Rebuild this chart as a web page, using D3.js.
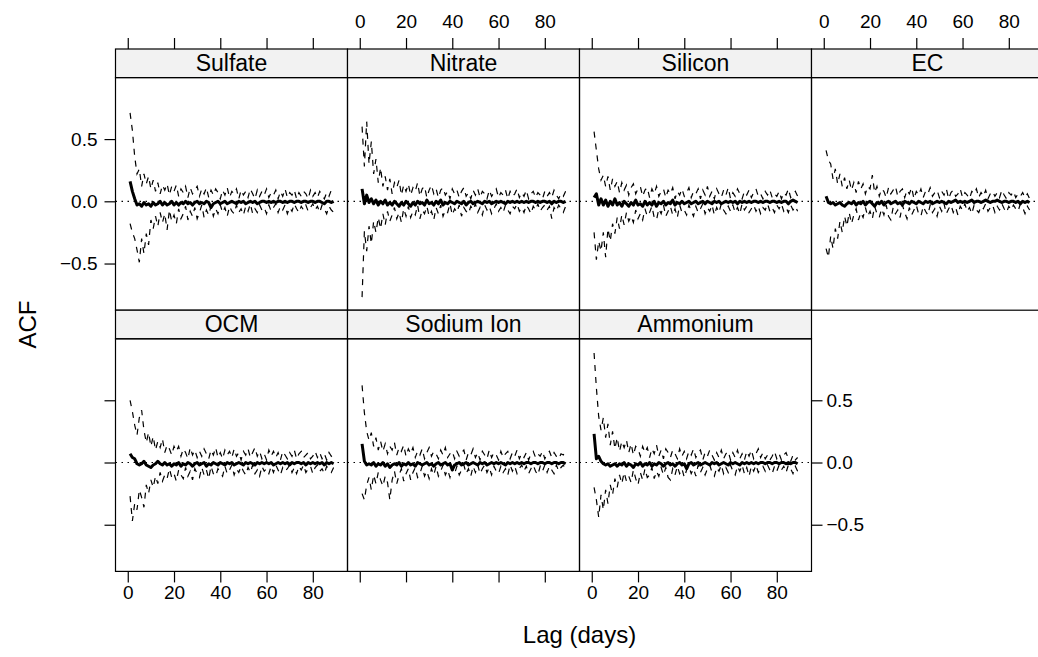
<!DOCTYPE html>
<html>
<head>
<meta charset="utf-8">
<script src="https://cdn.jsdelivr.net/npm/d3@7"></script>
<style>
  html, body { margin: 0; padding: 0; background: #fff; }
  svg { display: block; font-family: "Liberation Sans", Arial, Helvetica, sans-serif; }
</style>
</head>
<body>
<div id="vis"></div>
<script>
// panel order, left to right, top row first
const panelNames = ["Sulfate", "Nitrate", "Silicon", "EC", "OCM", "Sodium Ion", "Ammonium"];
const lags = d3.range(1, 90);
const xTicks = [0, 20, 40, 60, 80];
const yTicks = [-0.5, 0, 0.5];

// ACF estimate (solid) and upper / lower bounds (dashed), lag 1..89
const sulfateAcf = [.16,.08,.02,-.03,-.02,-.04,-.01,-.03,-.02,-.04, -.01,-.03,-.02,.00,-.03,-.01,-.03,-.02,.00,-.03, -.01,-.03,-.01,-.02,.00,-.02,-.01,-.03,-.01,.00, -.02,-.01,-.02,.00,-.01,-.05,-.02,-.01,.00,-.02, -.01,.00,-.02,-.01,.00,-.01,-.02,.00,-.01,.00, -.02,-.01,.00,-.01,.00,-.02,-.01,.00,.00,-.01, .00,-.01,.00,-.01,.00,.00,-.01,.00,-.01,.00, .00,-.01,.00,.00,-.01,.00,.00,-.01,.00,.00, -.01,.00,.00,-.01,-.02,.00,.00,-.01,.00];
const sulfateUpper = [.71,.57,.36,.22,.26,.12,.22,.14,.20,.10, .17,.08,.15,.06,.13,.09,.14,.05,.12,.08, .13,.04,.10,.07,.12,.03,.11,.06,.09,.12, .04,.10,.06,.11,.03,.09,.05,.10,.07,.02, .09,.05,.11,.03,.08,.06,.10,.02,.09,.05, .08,.03,.10,.06,.02,.09,.04,.08,.05,.10, .03,.07,.05,.09,.02,.08,.04,.10,.03,.07, .05,.09,.02,.07,.04,.08,.06,.02,.09,.04, .07,.03,.08,.05,.02,.07,.04,.09,.06];
const sulfateLower = [-.18,-.25,-.30,-.39,-.49,-.30,-.42,-.26,-.35,-.15, -.22,-.12,-.20,-.09,-.17,-.10,-.23,-.07,-.16,-.11, -.18,-.06,-.14,-.10,-.04,-.15,-.08,-.12,-.05,-.14, -.09,-.03,-.13,-.07,-.11,-.04,-.12,-.06,-.10,-.03, -.09,-.05,-.12,-.04,-.08,-.10,-.03,-.09,-.06,-.11, -.04,-.08,-.02,-.10,-.06,-.09,-.03,-.07,-.05,-.10, -.03,-.08,-.05,-.02,-.09,-.04,-.07,-.03,-.10,-.05, -.08,-.02,-.06,-.09,-.04,-.07,-.03,-.08,-.05,-.02, -.07,-.04,-.09,-.03,-.06,-.10,-.04,-.07,-.09];

const nitrateAcf = [.10,-.02,.05,-.01,.02,-.02,.01,-.03,.00,-.02, .01,-.03,-.01,-.03,.00,-.02,-.04,-.01,-.03,.00, -.02,-.04,-.01,-.03,.00,-.02,-.01,-.03,.01,-.02, -.01,-.03,.00,-.02,.01,-.03,-.01,-.02,.00,-.01, -.02,.00,-.01,-.02,.00,-.03,-.01,.00,-.02,-.01, .00,-.01,-.02,.00,-.01,.00,-.02,-.01,.00,-.01, .00,-.01,-.02,.00,-.01,.00,-.01,.00,-.01,.00, -.01,.00,-.01,.00,.00,-.01,.00,-.01,.00,.00, -.01,.00,-.02,.00,-.01,.00,.00,-.01,.00];
const nitrateUpper = [.60,.28,.64,.30,.48,.22,.34,.15,.27,.12, .20,.09,.18,.06,.15,.11,.17,.05,.13,.08, .14,.05,.11,.08,.15,.04,.10,.12,.03,.09, .13,.06,.10,.03,.09,.11,.05,.08,.02,.10, .06,.09,.03,.08,.11,.04,.07,.02,.09,.05, .10,.03,.08,.06,.02,.09,.04,.07,.10,.03, .07,.05,.09,.02,.08,.04,.06,.10,.03,.07, .04,.09,.02,.06,.08,.03,.07,.05,.02,.08, .04,.07,.03,.09,.05,.02,.06,.04,.08];
const nitrateLower = [-.77,-.24,-.40,-.20,-.34,-.16,-.25,-.13,-.22,-.10, -.19,-.08,-.16,-.11,-.05,-.14,-.09,-.17,-.06,-.12, -.04,-.13,-.08,-.11,-.03,-.14,-.07,-.10,-.04,-.12, -.08,-.15,-.05,-.10,-.03,-.12,-.07,-.09,-.02,-.11, -.06,-.09,-.03,-.12,-.05,-.08,-.10,-.04,-.07,-.02, -.09,-.05,-.11,-.03,-.07,-.04,-.10,-.06,-.02,-.08, -.05,-.09,-.03,-.07,-.10,-.04,-.06,-.02,-.08,-.05, -.09,-.03,-.06,-.10,-.04,-.07,-.02,-.08,-.05,-.03, -.07,-.04,-.14,-.05,-.08,-.03,-.06,-.09,-.04];

const siliconAcf = [.03,.06,-.03,.02,-.03,.01,-.04,.00,-.03,.02, -.03,-.01,-.04,.00,-.02,-.04,-.01,-.03,.01,-.03, -.02,-.04,.00,-.03,-.01,-.03,.00,-.04,-.01,-.02, .00,-.03,-.01,-.02,.01,-.03,-.01,-.02,.00,-.02, -.01,.00,-.02,-.01,.00,-.02,-.01,.00,-.02,.00, -.01,-.02,.00,-.01,.00,-.02,-.01,.00,-.01,.00, -.01,.00,-.02,.00,-.01,.00,-.01,.00,-.01,.00, .00,-.01,.00,-.01,.00,.00,-.01,.00,.00,-.01, .00,-.01,.00,.00,-.02,.00,.01,.00,-.01];
const siliconUpper = [.56,.41,.26,.17,.21,.12,.20,.09,.18,.12, .16,.07,.15,.09,.13,.05,.11,.14,.06,.10, .12,.04,.09,.11,.03,.10,.06,.12,.04,.08, .10,.03,.09,.06,.11,.02,.08,.05,.10,.04, .07,.11,.03,.08,.06,.10,.02,.09,.05,.12, .04,.08,.02,.10,.06,.03,.09,.05,.11,.02, .07,.04,.10,.06,.02,.08,.05,.09,.03,.07, .10,.04,.06,.02,.08,.05,.09,.03,.06,.04, .08,.02,.07,.05,.10,.03,.06,.08,.04];
const siliconLower = [-.25,-.47,-.32,-.40,-.25,-.45,-.22,-.32,-.18,-.26, -.13,-.22,-.11,-.19,-.09,-.16,-.12,-.17,-.07,-.14, -.10,-.15,-.06,-.12,-.09,-.04,-.13,-.15,-.06,-.10, -.03,-.12,-.08,-.04,-.11,-.06,-.13,-.03,-.09,-.07, -.11,-.03,-.08,-.12,-.04,-.09,-.06,-.02,-.10,-.05, -.08,-.03,-.11,-.05,-.09,-.02,-.07,-.10,-.04,-.08, -.03,-.09,-.05,-.10,-.02,-.07,-.04,-.09,-.06,-.03, -.08,-.04,-.10,-.05,-.07,-.02,-.08,-.05,-.09,-.03, -.06,-.02,-.08,-.05,-.09,-.03,-.07,-.04,-.08];

const ecAcf = [.04,-.01,-.02,-.01,-.03,-.02,-.01,-.03,-.04,-.02, -.01,-.02,.00,-.03,-.01,-.02,.00,-.03,-.01,.00, -.02,-.04,-.01,-.02,.00,-.03,-.01,.00,-.02,-.01, .00,-.02,-.01,-.03,.00,-.01,-.02,.00,-.01,-.02, .00,-.01,-.02,.00,-.01,.00,-.02,-.01,.00,-.01, .00,-.01,-.02,.00,-.01,.00,.01,-.01,.00,-.01, .00,-.01,.00,.01,-.01,.00,.00,-.01,.00,.01, .00,-.01,.00,.00,.01,.00,-.01,.00,.00,-.01, .00,.00,-.01,.00,-.02,.00,-.01,.00,-.01];
const ecUpper = [.41,.33,.30,.18,.26,.14,.22,.12,.19,.10, .17,.09,.15,.07,.16,.10,.14,.06,.12,.10, .21,.07,.12,.04,.10,.08,.03,.11,.06,.09, .12,.04,.08,.10,.03,.09,.06,.11,.02,.08, .05,.10,.03,.08,.06,.11,.04,.07,.09,.03, .08,.05,.10,.02,.07,.09,.04,.06,.10,.03, .07,.05,.02,.08,.06,.10,.03,.07,.04,.09, .02,.06,.08,.04,.07,.03,.09,.05,.02,.07, .05,.08,.03,.06,.04,.07,.03,.06,.02];
const ecLower = [-.38,-.45,-.28,-.38,-.22,-.30,-.16,-.25,-.12,-.20, -.09,-.18,-.11,-.06,-.15,-.09,-.13,-.05,-.12,-.08, -.14,-.04,-.10,-.13,-.06,-.11,-.03,-.12,-.15,-.05, -.10,-.07,-.13,-.03,-.09,-.14,-.05,-.11,-.07,-.03, -.10,-.12,-.04,-.08,-.11,-.03,-.09,-.06,-.12,-.04, -.08,-.02,-.10,-.06,-.03,-.09,-.05,-.11,-.04,-.07, -.02,-.08,-.05,-.10,-.03,-.07,-.09,-.04,-.06,-.02, -.08,-.05,-.03,-.09,-.04,-.07,-.02,-.06,-.09,-.04, -.07,-.03,-.06,-.08,-.02,-.05,-.10,-.04,-.07];

const ocmAcf = [.07,.04,.03,-.01,-.02,-.01,.01,-.02,-.03,-.04, -.02,-.01,.01,-.01,-.02,.00,-.02,-.01,-.03,-.01, -.02,.00,-.03,-.01,-.02,.00,-.01,-.03,-.01,.00, -.02,-.01,.00,-.03,-.01,-.02,.00,-.01,-.02,.00, -.01,-.02,.00,-.01,.00,-.02,-.01,.00,-.01,-.02, .00,-.01,.00,-.01,-.02,.00,-.01,.00,-.01,.00, -.01,.00,-.02,-.01,.00,-.01,.00,-.01,.00,-.02, .00,-.01,.00,.00,-.01,.00,-.02,.00,-.01,.00, -.01,.00,-.01,.00,-.02,.00,-.01,.00,-.01];
const ocmUpper = [.50,.41,.30,.22,.36,.42,.26,.16,.24,.13, .21,.10,.17,.12,.19,.08,.14,.11,.06,.13, .09,.13,.05,.11,.08,.03,.12,.06,.10,.04, .09,.05,.11,.07,.03,.10,.06,.12,.04,.08, .03,.10,.06,.09,.04,.11,.05,.08,.02,.09, .06,.11,.04,.08,.12,.05,.09,.03,.07,.02, .10,.05,.09,.04,.08,.02,.09,.06,.03,.08, .05,.10,.03,.07,.09,.04,.06,.08,.03,.05, .09,.04,.08,.03,.07,.02,.08,.05,.07];
const ocmLower = [-.27,-.47,-.33,-.38,-.22,-.28,-.36,-.18,-.25,-.14, -.20,-.11,-.17,-.08,-.15,-.10,-.13,-.05,-.12,-.09, -.15,-.06,-.10,-.13,-.04,-.11,-.07,-.14,-.05,-.09, -.12,-.04,-.10,-.06,-.13,-.03,-.09,-.11,-.05,-.08, -.11,-.03,-.09,-.06,-.02,-.10,-.05,-.08,-.03,-.07, -.10,-.04,-.08,-.02,-.09,-.06,-.11,-.03,-.07,-.05, -.09,-.03,-.08,-.02,-.06,-.10,-.04,-.07,-.05,-.02, -.08,-.04,-.09,-.03,-.06,-.02,-.08,-.05,-.03,-.09, -.04,-.02,-.07,-.05,-.09,-.03,-.06,-.08,-.04];

const sodiumAcf = [.15,.01,-.02,-.01,-.02,.00,-.03,-.01,-.02,.00, -.03,-.01,-.04,-.02,-.01,-.02,.00,-.03,-.01,-.02, .00,-.02,-.01,-.03,.00,-.01,-.02,-.01,.00,-.02, -.01,-.03,-.01,.00,-.02,-.01,.00,-.02,-.01,-.06, -.02,-.01,.00,-.02,-.01,.00,-.02,-.01,.00,-.01, -.02,.00,-.01,.00,-.02,-.01,.00,-.01,.00,-.01, .00,-.01,-.02,.00,-.01,.00,-.01,.00,-.01,.00, -.01,.00,.00,-.01,.00,.00,-.01,.00,.00,-.01, .00,.00,-.01,.00,.00,-.01,.00,.00,-.01];
const sodiumUpper = [.62,.40,.25,.18,.24,.13,.20,.10,.17,.09, .15,.07,.13,.10,.16,.06,.12,.09,.14,.05, .11,.07,.12,.04,.09,.06,.11,.03,.08,.12, .05,.09,.07,.03,.10,.06,.12,.04,.07,.09, .03,.09,.05,.08,.10,.02,.08,.06,.11,.04, .08,.02,.09,.06,.03,.10,.04,.08,.06,.02, .09,.04,.07,.09,.03,.08,.05,.10,.03,.07, .04,.08,.02,.07,.09,.04,.07,.05,.09,.03, .07,.09,.04,.08,.05,.03,.07,.06,.10];
const sodiumLower = [-.25,-.30,-.18,-.12,-.22,-.10,-.17,-.08,-.14,-.19, -.11,-.16,-.30,-.14,-.07,-.17,-.10,-.05,-.15,-.09, -.05,-.14,-.08,-.04,-.12,-.09,-.03,-.11,-.07,-.13, -.05,-.10,-.03,-.11,-.07,-.02,-.10,-.06,-.12,-.04, -.09,-.03,-.10,-.06,-.02,-.09,-.05,-.11,-.03,-.08, -.02,-.09,-.05,-.02,-.08,-.04,-.10,-.03,-.07,-.09, -.03,-.08,-.05,-.10,-.02,-.07,-.03,-.09,-.05,-.02, -.07,-.03,-.09,-.05,-.02,-.07,-.10,-.03,-.07,-.02, -.08,-.03,-.06,-.09,-.02,-.07,-.04,-.02,-.06];

const ammoniumAcf = [.23,.03,.05,.01,-.01,-.02,-.01,-.03,-.02,-.01, -.03,-.01,-.02,.00,-.03,-.01,-.02,-.04,-.01,-.02, .00,-.03,-.01,-.02,.00,-.03,-.01,-.02,.00,-.01, -.03,-.01,.00,-.02,-.01,-.03,-.01,.00,-.02,-.01, -.05,-.01,.00,-.02,-.01,.00,-.02,-.01,.00,-.01, -.02,.00,-.01,.00,-.02,-.01,.00,-.01,-.02,.00, -.01,.00,-.01,-.02,.00,-.01,.00,-.01,.00,-.01, .00,-.01,.00,.00,-.01,.00,.00,-.01,.00,.00, -.01,.00,.00,-.01,.00,-.01,.00,.00,-.01];
const ammoniumUpper = [.88,.60,.37,.26,.36,.20,.31,.14,.25,.11, .20,.09,.17,.12,.18,.08,.15,.06,.13,.11, .05,.13,.08,.12,.04,.11,.07,.14,.05,.10, .03,.11,.08,.04,.10,.07,.03,.11,.05,.09, .03,.09,.06,.11,.04,.08,.10,.02,.08,.05, .10,.06,.02,.08,.04,.10,.03,.07,.09,.02, .08,.04,.10,.03,.07,.02,.09,.05,.10,.03, .07,.11,.04,.08,.03,.06,.02,.05,.09,.03, .07,.02,.06,.08,.03,.01,.06,.02,.04];
const ammoniumLower = [-.20,-.30,-.44,-.26,-.38,-.22,-.33,-.18,-.26,-.13, -.20,-.10,-.17,-.08,-.15,-.11,-.16,-.06,-.13,-.18, -.08,-.14,-.05,-.12,-.10,-.04,-.13,-.07,-.11,-.04, -.10,-.04,-.12,-.14,-.05,-.10,-.03,-.09,-.05,-.12, -.06,-.03,-.09,-.05,-.11,-.02,-.08,-.04,-.10,-.05, -.02,-.08,-.11,-.04,-.07,-.02,-.09,-.04,-.08,-.02, -.07,-.10,-.03,-.07,-.02,-.09,-.04,-.11,-.03,-.07, -.02,-.08,-.05,-.03,-.07,-.02,-.06,-.09,-.03,-.07, -.02,-.06,-.03,-.08,-.02,-.05,-.09,-.03,-.07];

const series = [
  { acf: sulfateAcf, upper: sulfateUpper, lower: sulfateLower },
  { acf: nitrateAcf, upper: nitrateUpper, lower: nitrateLower },
  { acf: siliconAcf, upper: siliconUpper, lower: siliconLower },
  { acf: ecAcf, upper: ecUpper, lower: ecLower },
  { acf: ocmAcf, upper: ocmUpper, lower: ocmLower },
  { acf: sodiumAcf, upper: sodiumUpper, lower: sodiumLower },
  { acf: ammoniumAcf, upper: ammoniumUpper, lower: ammoniumLower }
];

// layout (px)
var X0 = 115.5, TOP = 49, PW = 232, PH = 232.6, SH = 28.6;
var TICK = 11, AXIS_FONT = "19px", STRIP_FONT = "23px", LAB_FONT = "24px";

var svg = d3.select("#vis").append("svg")
    .attr("width", 1038)
    .attr("height", 657);

var x = d3.scaleLinear().domain([-5.3, 95]).range([0, PW]);
var y = d3.scaleLinear().domain([-0.875, 0.994]).range([PH, 0]);

function fmtY(d) { return d === 0 ? "0.0" : (d < 0 ? "\u2212" + Math.abs(d).toFixed(1) : d.toFixed(1)); }
function blank() { return ""; }

function styleAxis(g) {
    g.select("path.domain").remove();
    g.selectAll(".tick line").attr("stroke", "#000").attr("stroke-width", 1.2);
    g.selectAll(".tick text")
        .attr("fill", "#000")
        .style("font-size", AXIS_FONT)
        .style("font-family", "'Liberation Sans', Arial, sans-serif");
}

var line = d3.line()
    .x(function (d, i) { return x(lags[i]); })
    .y(function (d) { return y(d); });

panelNames.forEach(function (name, i) {
    var col = i % 4, row = Math.floor(i / 4);
    var g = svg.append("g")
        .attr("transform", "translate(" + (X0 + col * PW) + "," + (TOP + row * (SH + PH)) + ")");

    // strip
    g.append("rect")
        .attr("width", PW).attr("height", SH)
        .attr("fill", "#f2f2f2")
        .attr("stroke", "#000").attr("stroke-width", 1.2);
    g.append("text")
        .attr("x", PW / 2).attr("y", SH / 2 + 8)
        .attr("text-anchor", "middle")
        .style("font-size", STRIP_FONT)
        .text(name);

    var p = g.append("g").attr("transform", "translate(0," + SH + ")");

    p.append("clipPath").attr("id", "clip" + i)
        .append("rect").attr("width", PW).attr("height", PH);

    var inner = p.append("g").attr("clip-path", "url(#clip" + i + ")");

    inner.append("line")
        .attr("x1", 0).attr("x2", PW)
        .attr("y1", y(0)).attr("y2", y(0))
        .attr("stroke", "#000").attr("stroke-width", 1.2)
        .attr("stroke-dasharray", "1.5,4.5");

    var s = series[i];
    [s.upper, s.lower].forEach(function (vals) {
        inner.append("path")
            .datum(vals)
            .attr("d", line)
            .attr("fill", "none")
            .attr("stroke", "#000")
            .attr("stroke-width", 1.2)
            .attr("stroke-dasharray", "6,6");
    });
    inner.append("path")
        .datum(s.acf)
        .attr("d", line)
        .attr("fill", "none")
        .attr("stroke", "#000")
        .attr("stroke-width", 3)
        .attr("stroke-linejoin", "round");

    p.append("rect")
        .attr("width", PW).attr("height", PH)
        .attr("fill", "none")
        .attr("stroke", "#000").attr("stroke-width", 1.2);

    // top axis on the top row, labels alternate
    if (row === 0) {
        g.append("g")
            .call(d3.axisTop(x).tickValues(xTicks).tickSize(TICK).tickPadding(10)
                .tickFormat(col % 2 === 1 ? d3.format("d") : blank))
            .call(styleAxis);
    }
    // bottom axis on the bottom row
    if (row === 1) {
        p.append("g")
            .attr("transform", "translate(0," + PH + ")")
            .call(d3.axisBottom(x).tickValues(xTicks).tickSize(TICK).tickPadding(3)
                .tickFormat(col % 2 === 0 ? d3.format("d") : blank))
            .call(styleAxis);
    }
    // left axis on first column
    if (col === 0) {
        p.append("g")
            .call(d3.axisLeft(y).tickValues(yTicks).tickSize(TICK).tickPadding(7)
                .tickFormat(row === 0 ? fmtY : blank))
            .call(styleAxis);
    }
    // right axis on last panel of each row
    if ((row === 0 && col === 3) || (row === 1 && col === 2)) {
        p.append("g")
            .attr("transform", "translate(" + PW + ",0)")
            .call(d3.axisRight(y).tickValues(yTicks).tickSize(TICK).tickPadding(4)
                .tickFormat(row === 1 ? fmtY : blank))
            .call(styleAxis);
    }
});

// axis titles
svg.append("text")
    .attr("transform", "translate(36," + (TOP + SH + (PH * 2 + SH) / 2) + ") rotate(-90)")
    .attr("text-anchor", "middle")
    .style("font-size", LAB_FONT)
    .text("ACF");

svg.append("text")
    .attr("x", X0 + 2 * PW)
    .attr("y", 643)
    .attr("text-anchor", "middle")
    .style("font-size", LAB_FONT)
    .text("Lag (days)");
</script>
</body>
</html>
